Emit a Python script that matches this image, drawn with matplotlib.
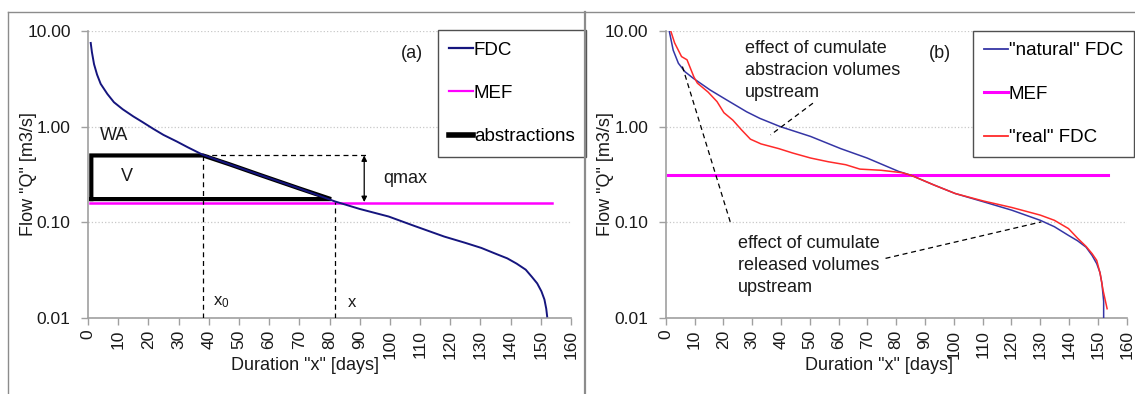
import matplotlib
matplotlib.use('Agg')
import matplotlib.pyplot as plt
from matplotlib.lines import Line2D
from matplotlib.ticker import NullLocator

plt.rcParams['font.family'] = ['Liberation Sans', 'DejaVu Sans']
plt.rcParams['mathtext.fontset'] = 'custom'
plt.rcParams['mathtext.rm'] = 'Liberation Sans'
plt.rcParams['mathtext.it'] = 'Liberation Sans'

# ---------------- data ----------------
x_ticks = list(range(0, 161, 10))
y_ticks = [0.01, 0.1, 1.0, 10.0]
y_tick_labels = ["0.01", "0.10", "1.00", "10.00"]

# panel (a)
fdc_a_days = [0.9, 1.3, 2.0, 3.0, 4.2, 6.4, 8.6, 11.5, 15, 18, 21.6, 25, 29.4, 33, 38.1,
              47, 56.7, 70, 81.9, 90, 99.6, 108, 118, 125, 130.3, 135, 138.9, 142,
              145, 147, 148.8, 150.2, 151.2, 151.8, 152.1]
fdc_a_q = [7.5, 6.0, 4.5, 3.5, 2.8, 2.2, 1.8, 1.52, 1.28, 1.12, 0.95, 0.82, 0.70, 0.61,
           0.507, 0.403, 0.315, 0.226, 0.165, 0.138, 0.115, 0.092, 0.071, 0.061,
           0.054, 0.047, 0.042, 0.037, 0.032, 0.027, 0.023, 0.019, 0.0156, 0.0125,
           0.0104]
mef_a_days = [0.8, 153.6]
mef_a_q = [0.161, 0.161]
abstr_days = [1.1, 1.1, 38.1, 47, 56.7, 70, 80.5, 1.1]
abstr_q = [0.175, 0.5, 0.5, 0.403, 0.315, 0.226, 0.175, 0.175]
x0_day, x_day = 38.1, 81.9
qmax_top, qmax_bottom = 0.5, 0.163

# panel (b)
nat_days = [1.0, 2.6, 4.4, 6.7, 9.6, 15.4, 21.2, 28.1, 32.7, 39.8, 50.3, 60.7, 69.9,
            80.9, 85.2, 93.2, 100.5, 110.3, 120.1, 130, 134.9, 139.8, 143, 145.9,
            148, 149.6, 150.7, 151.4, 152, 152]
nat_q = [10.8, 6.3, 4.6, 3.75, 3.2, 2.42, 1.90, 1.43, 1.22, 1.0, 0.79, 0.59, 0.47,
         0.34, 0.31, 0.245, 0.20, 0.164, 0.134, 0.105, 0.090, 0.073, 0.064, 0.055,
         0.045, 0.037, 0.030, 0.023, 0.015, 0.01]
real_days = [1.4, 3.1, 5.5, 7.4, 9.8, 11, 14.7, 17.8, 20.2, 23.3, 26.4, 29.4, 33.1,
             39.2, 44.1, 50.3, 56.4, 62.5, 67.4, 74.8, 82.1, 85.2, 93.2, 100.5, 110.3,
             120.1, 130, 134.9, 139.8, 143, 145.9, 148, 149.6, 150.8, 151.8, 153.2]
real_q = [10.8, 7.5, 5.4, 5.0, 3.3, 2.85, 2.3, 1.83, 1.40, 1.17, 0.92, 0.74, 0.66,
          0.59, 0.53, 0.47, 0.43, 0.40, 0.36, 0.35, 0.33, 0.31, 0.245, 0.20, 0.167,
          0.143, 0.119, 0.105, 0.086, 0.068, 0.056, 0.047, 0.040, 0.029, 0.0195,
          0.0125]
mef_b_days = [0.8, 153.6]
mef_b_q = [0.312, 0.312]

# ---------------- figure ----------------
W, H = 1135, 394
fig = plt.figure(figsize=(W / 100, H / 100), dpi=100)


def px_axes(l, t, r, b):
    return fig.add_axes([l / W, 1 - b / H, (r - l) / W, (b - t) / H])


axA = px_axes(88, 31, 571, 318)
axB = px_axes(665.7, 31, 1126.7, 318)

GRAY = '#a0a0a0'
TXT = '#1a1a1a'


def style(ax):
    ax.set_yscale('log')
    ax.set_ylim(0.01, 10)
    ax.set_xlim(0, 160)
    ax.set_xticks(x_ticks)
    ax.set_xticklabels([str(t) for t in x_ticks], rotation=90)
    ax.set_yticks(y_ticks)
    ax.set_yticklabels(y_tick_labels)
    ax.yaxis.set_minor_locator(NullLocator())
    for s in ['top', 'right']:
        ax.spines[s].set_visible(False)
    for s in ['left', 'bottom']:
        ax.spines[s].set_color(GRAY)
        ax.spines[s].set_linewidth(1.2)
    ax.tick_params(axis='both', length=5, width=1, color=GRAY, labelsize=12.5,
                   labelcolor=TXT)
    ax.tick_params(axis='y', pad=7.5)
    ax.tick_params(axis='x', pad=3.5)
    ax.grid(axis='y', which='major', color='#c8c8c8', linestyle=':', linewidth=0.9)
    ax.set_axisbelow(True)
    ax.set_xlabel('Duration "x" [days]', fontsize=13, color=TXT)
    ax.set_ylabel('Flow "Q" [m3/s]', fontsize=13, color=TXT)


style(axA)
style(axB)
axA.xaxis.set_label_coords(0.449, -0.135)
axB.xaxis.set_label_coords(0.463, -0.135)
axA.yaxis.set_label_coords(-0.106, 0.5)
axB.yaxis.set_label_coords(-0.112, 0.5)

# ---- panel (a) ----
axA.plot(mef_a_days, mef_a_q, color='#ff00ff', lw=1.8, zorder=2, label='MEF')
axA.plot(abstr_days, abstr_q, color='black', lw=3.0, solid_joinstyle='miter',
         zorder=3, label='abstractions')
axA.plot(fdc_a_days, fdc_a_q, color='#15157e', lw=1.4, zorder=4, label='FDC')
dash = dict(color='black', lw=0.9, ls=(0, (4, 3)), zorder=3)
axA.plot([x0_day, x0_day], [0.01, qmax_top], **dash)
axA.plot([x_day, x_day], [0.01, qmax_bottom], **dash)
axA.plot([x0_day, 93], [qmax_top, qmax_top], **dash)
axA.annotate('', xy=(91.5, qmax_bottom), xytext=(91.5, qmax_top),
             arrowprops=dict(arrowstyle='<|-|>', color='black', lw=0.9,
                             mutation_scale=8, shrinkA=0, shrinkB=0))
axA.text(4, 0.80, 'WA', fontsize=13, color=TXT, va='center')
axA.text(11, 0.30, 'V', fontsize=13, color=TXT, va='center')
axA.text(97.8, 0.29, 'qmax', fontsize=13, color=TXT, va='center')
axA.text(41.5, 0.0145, r'x$\mathregular{_0}$', fontsize=12, color=TXT, va='center')
axA.text(86, 0.0145, 'x', fontsize=12, color=TXT, va='center')
axA.text(111, 5.8, '(a)', fontsize=13, color=TXT, va='center', ha='right')

hA = [Line2D([], [], color='#15157e', lw=1.6),
      Line2D([], [], color='#ff00ff', lw=1.6),
      Line2D([], [], color='black', lw=4)]
legA = axA.legend(hA, ['FDC', 'MEF', 'abstractions'], loc='upper left',
                  bbox_to_anchor=(0.725, 1.003), fontsize=13.5, frameon=True,
                  fancybox=False, edgecolor='#505050', framealpha=1,
                  handlelength=1.25, handletextpad=0.05, labelspacing=1.4,
                  borderpad=0.6, borderaxespad=0)
legA.get_frame().set_linewidth(1.0)

# ---- panel (b) ----
axB.plot(mef_b_days, mef_b_q, color='#ff00ff', lw=2.2, zorder=2, label='MEF')
axB.plot(nat_days, nat_q, color='#3535a5', lw=1.1, zorder=3, label='"natural" FDC')
axB.plot(real_days, real_q, color='#ff2a2a', lw=1.1, zorder=4, label='"real" FDC')
axB.plot([51.1, 36.4], [1.76, 0.82], **dash)
axB.plot([5.8, 22.4], [4.25, 0.101], **dash)
axB.plot([76.3, 130.3], [0.042, 0.101], **dash)
axB.text(27.5, 3.85, 'effect of cumulate\nabstracion volumes\nupstream', fontsize=13,
         color=TXT, va='center', ha='left', linespacing=1.38)
axB.text(25.2, 0.0355, 'effect of cumulate\nreleased volumes\nupstream', fontsize=13,
         color=TXT, va='center', ha='left', linespacing=1.38)
axB.text(99, 5.87, '(b)', fontsize=13, color=TXT, va='center', ha='right')

hB = [Line2D([], [], color='#3535a5', lw=1.3),
      Line2D([], [], color='#ff00ff', lw=2.2),
      Line2D([], [], color='#ff2a2a', lw=1.3)]
legB = axB.legend(hB, ['"natural" FDC', 'MEF', '"real" FDC'], loc='upper left',
                  bbox_to_anchor=(0.667, 1.0), fontsize=13.5, frameon=True,
                  fancybox=False, edgecolor='#505050', framealpha=1,
                  handlelength=1.25, handletextpad=0.05, labelspacing=1.4,
                  borderpad=0.6, borderaxespad=0)
legB.get_frame().set_linewidth(1.0)

# ---- panel borders ----
bc = '#8c8c8c'
fig.add_artist(Line2D([8 / W, 1], [1 - 12 / H, 1 - 12 / H], color=bc, lw=1.0,
                      transform=fig.transFigure))
fig.add_artist(Line2D([8 / W, 8 / W], [0, 1 - 12 / H], color=bc, lw=1.0,
                      transform=fig.transFigure))
fig.add_artist(Line2D([585 / W, 585 / W], [0, 1 - 12 / H], color=bc, lw=1.6,
                      transform=fig.transFigure))

fig.savefig('out.png', dpi=100)
